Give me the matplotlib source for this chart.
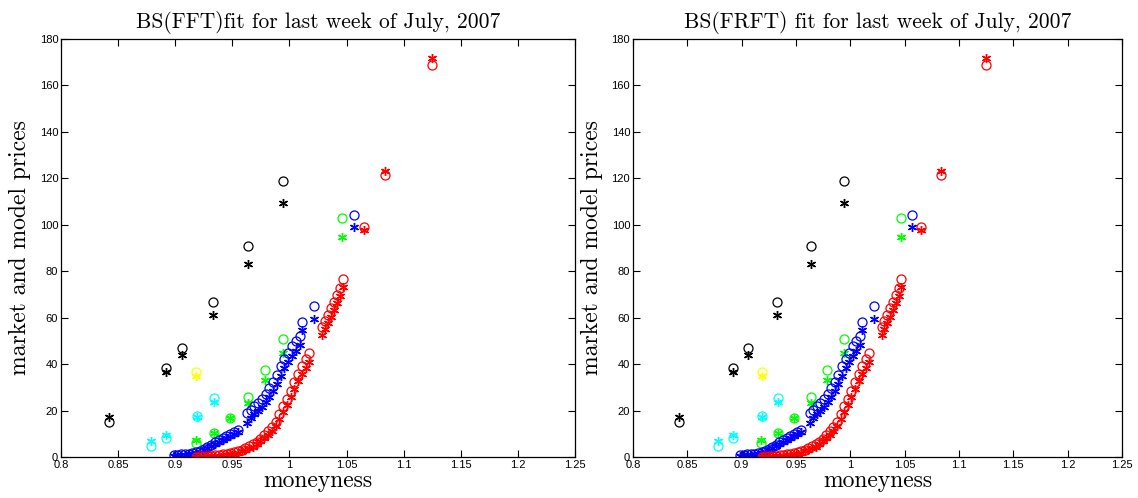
import numpy as np
from matplotlib import pyplot as plt

# ---------------- data ----------------
# moneyness / price pairs per maturity, circles = model, stars = market
black_x = [0.842, 0.8918, 0.9058, 0.9330, 0.9634, 0.9944]
black_o = [14.9, 38.2, 46.8, 66.7, 90.9, 119.0]
black_s = [17.4, 36.7, 43.9, 61.0, 83.0, 109.2]

yellow_x = [0.9184]
yellow_o = [36.7]
yellow_s = [34.9]

cyan_x = [0.8787, 0.8918, 0.9190, 0.9336]
cyan_o = [4.7, 8.3, 17.8, 25.3]
cyan_s = [6.9, 9.5, 17.2, 23.8]

green_x = [0.9180, 0.9336, 0.9480, 0.9634, 0.9790, 0.9944, 1.0463]
green_o = [6.2, 10.2, 17.0, 26.0, 37.5, 50.8, 103.0]
green_s = [7.3, 10.5, 16.6, 23.1, 33.2, 44.6, 94.6]

blue_x = [0.8985, 0.9018, 0.9051, 0.9084, 0.9117, 0.9150, 0.9183, 0.9216,
          0.9249, 0.9282, 0.9315, 0.9348, 0.9381, 0.9414, 0.9447, 0.9480,
          0.9513, 0.9546,
          0.9626, 0.9659, 0.9692, 0.9725, 0.9758, 0.9791, 0.9824, 0.9857,
          0.9890, 0.9923, 0.9956, 0.9989, 1.0022, 1.0055, 1.0088,
          1.0107, 1.0218, 1.0568]
blue_o = [0.9, 1.0, 1.1, 1.3, 1.5, 1.8, 2.2, 2.8,
          3.5, 4.4, 5.3, 6.3, 7.2, 8.2, 9.1, 10.0,
          10.9, 11.8,
          18.8, 20.2, 21.8, 23.3, 25.0, 27.3, 29.8, 32.4,
          35.3, 39.0, 42.3, 45.0, 47.6, 49.9, 52.3,
          58.3, 65.0, 104.2]
blue_s = [0.6, 0.7, 0.8, 1.0, 1.2, 1.4, 1.8, 2.3,
          2.9, 3.7, 4.6, 5.5, 6.4, 7.3, 8.2, 9.0,
          9.9, 10.7,
          14.8, 17.0, 18.6, 20.0, 21.6, 23.7, 26.0, 28.6,
          31.5, 35.0, 38.2, 41.0, 43.6, 45.8, 48.2,
          54.5, 59.3, 99.2]

red_x = [0.9185, 0.9218, 0.9251, 0.9284, 0.9317, 0.9350, 0.9383, 0.9416,
         0.9449, 0.9482, 0.9515, 0.9548, 0.9581, 0.9614, 0.9647, 0.9680,
         0.9713, 0.9746, 0.9779, 0.9812, 0.9845, 0.9878, 0.9911, 0.9944,
         0.9977, 1.0010, 1.0043, 1.0076, 1.0109, 1.0142, 1.0175,
         1.0288, 1.0314, 1.0340, 1.0366, 1.0392, 1.0418, 1.0444, 1.0470,
         1.0653, 1.0837, 1.1245]
red_o = [0.2, 0.3, 0.4, 0.5, 0.6, 0.7, 0.9, 1.1,
         1.3, 1.6, 2.0, 2.5, 3.1, 3.8, 4.6, 5.5,
         6.6, 7.9, 9.3, 11.0, 13.0, 15.2, 18.5, 21.8,
         25.0, 28.6, 32.2, 35.8, 39.0, 42.0, 44.7,
         56.0, 58.5, 61.3, 64.0, 66.8, 69.6, 72.8, 76.5,
         98.9, 121.5, 169.0]
red_s = [0.0, 0.1, 0.2, 0.3, 0.4, 0.5, 0.6, 0.8,
         1.0, 1.2, 1.5, 1.9, 2.4, 3.0, 3.7, 4.5,
         5.5, 6.7, 8.0, 9.6, 11.4, 13.5, 16.5, 19.5,
         22.5, 25.8, 29.2, 32.6, 35.6, 38.5, 41.0,
         52.5, 55.0, 57.8, 60.5, 63.3, 66.2, 69.4, 73.2,
         97.8, 123.0, 172.0]

series = [
    (black_x, black_o, black_s, '#000000'),
    (yellow_x, yellow_o, yellow_s, '#ffff00'),
    (cyan_x, cyan_o, cyan_s, '#00ffff'),
    (green_x, green_o, green_s, '#00ff00'),
    (blue_x, blue_o, blue_s, '#0000ff'),
    (red_x, red_o, red_s, '#ff0000'),
]

titles = ["BS(FFT)fit for last week of July, 2007",
          "BS(FRFT) fit for last week of July, 2007"]
xticks = [0.8, 0.85, 0.9, 0.95, 1.0, 1.05, 1.1, 1.15, 1.2, 1.25]
xticklabels = ['0.8', '0.85', '0.9', '0.95', '1', '1.05', '1.1', '1.15', '1.2', '1.25']
yticks = list(range(0, 181, 20))

# ---------------- figure ----------------
serif = 'cmr10'
fig = plt.figure(figsize=(11.38, 4.98), dpi=100)
positions = [[0.0536, 0.0823, 0.4517, 0.8394],
             [0.5562, 0.0823, 0.4297, 0.8394]]

star = (6, 2, 0)  # matlab style asterisk
for pos, title in zip(positions, titles):
    ax = fig.add_axes(pos)
    for xs, os_, ss, c in series:
        ax.plot(xs, os_, ls='none', marker='o', ms=6.5, mfc='none', mec=c, mew=0.9)
        ax.plot(xs, ss, ls='none', marker=star, ms=6.5, mec=c, mfc=c, mew=1.0)

    ax.set_xlim(0.8, 1.25)
    ax.set_ylim(0, 180)
    ax.set_xticks(xticks)
    ax.set_xticklabels(xticklabels)
    ax.set_yticks(yticks)
    ax.tick_params(direction='in', top=True, right=True, length=5, width=0.8,
                   labelsize=8, pad=2)
    for lab in ax.get_xticklabels() + ax.get_yticklabels():
        lab.set_family('Liberation Sans')
    for sp in ax.spines.values():
        sp.set_linewidth(0.9)

    ax.set_title(title, family=serif, fontsize=15.5, pad=8)
    ax.set_xlabel("moneyness", family=serif, fontsize=17, labelpad=0)
    ax.set_ylabel("market and model prices", family=serif, fontsize=17, labelpad=6)

plt.savefig("out.png", dpi=100)
